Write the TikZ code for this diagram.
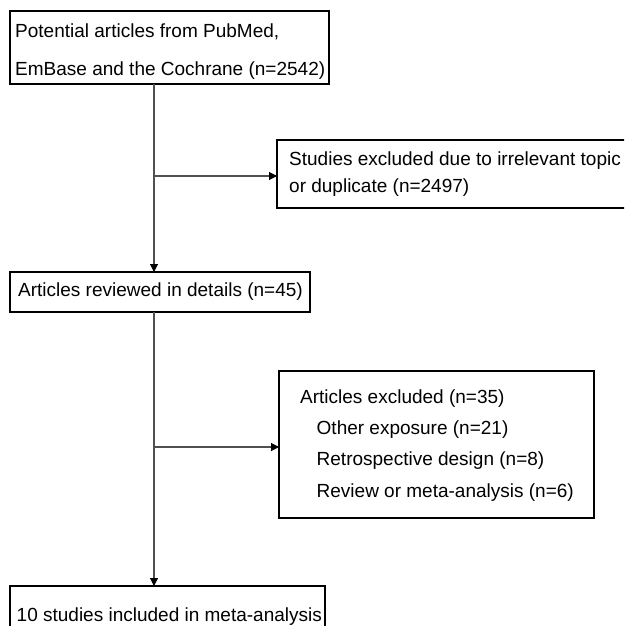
\documentclass[tikz,border=0pt]{standalone}
\usepackage{fontspec}
\setmainfont{Liberation Sans}
\usetikzlibrary{arrows.meta}
\definecolor{connclr}{RGB}{80,80,80}
\tikzset{
  box/.style={draw=black, line width=1.2pt, rectangle, anchor=north west, inner sep=0pt, outer sep=0pt},
  txt/.style={anchor=base west, inner sep=0pt, font=\fontsize{19}{19}\selectfont},
  conn/.style={draw=connclr, line width=1.1pt},
  arr/.style={conn, -{Triangle[length=8pt,width=8pt,color=black]}}
}
\begin{document}
\begin{tikzpicture}[x=1pt,y=-1pt]
\useasboundingbox (0,0) rectangle (624,626);
\clip (0,0) rectangle (624,626);
% boxes
\node[box, minimum width=319pt, minimum height=73pt] (top) at (10,11) {};
\node[box, minimum width=370pt, minimum height=68pt] (ex1) at (277,140) {};
\node[box, minimum width=300pt, minimum height=40pt] (rev) at (10,272) {};
\node[box, minimum width=315pt, minimum height=147pt] (ex2) at (279,371) {};
\node[box, minimum width=315pt, minimum height=60pt] (inc) at (10,586) {};
% texts
\node[txt] (t1a) at (15,37.7) {Potential articles from PubMed,};
\node[txt] (t1b) at (15,75.5) {EmBase and the Cochrane (n=2542)};
\node[txt] (t2a) at (289,165.7) {Studies excluded due to irrelevant topic};
\node[txt] (t2b) at (289,192) {or duplicate (n=2497)};
\node[txt] (t3) at (18,296) {Articles reviewed in details (n=45)};
\node[txt] (t4a) at (300,403.3) {Articles excluded (n=35)};
\node[txt] (t4b) at (316.5,434) {Other exposure (n=21)};
\node[txt] (t4c) at (316.5,465.7) {Retrospective design (n=8)};
\node[txt] (t4d) at (316.5,497.3) {Review or meta-analysis (n=6)};
\node[txt] (t5) at (16.5,621.5) {10 studies included in meta-analysis};
% connectors
\coordinate (v) at (154,0);
\coordinate (j1) at (154,176);
\coordinate (j2) at (154,447);
\draw[arr] (top.south -| v) -- (rev.north -| v);
\draw[arr] (j1) -- (j1 -| ex1.west);
\draw[arr] (rev.south -| v) -- (inc.north -| v);
\draw[arr] (j2) -- (j2 -| ex2.west);
\end{tikzpicture}
\end{document}
